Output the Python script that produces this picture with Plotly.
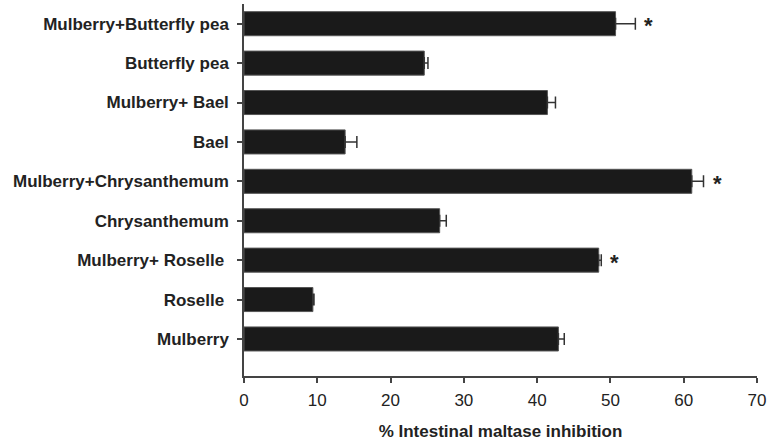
import plotly.graph_objects as go

categories = ["Mulberry", "Roselle ", "Mulberry+ Roselle ", "Chrysanthemum", "Mulberry+Chrysanthemum",
              "Bael", "Mulberry+ Bael", "Butterfly pea", "Mulberry+Butterfly pea"]
values = [42.9, 9.4, 48.4, 26.7, 61.1, 13.8, 41.4, 24.6, 50.7]
errors = [0.8, 0.15, 0.35, 0.9, 1.6, 1.6, 1.1, 0.5, 2.7]
significant = [False, False, True, False, True, False, False, False, True]
x_ticks = [0, 10, 20, 30, 40, 50, 60, 70]

font = "Liberation Sans, Arial, sans-serif"
fs = 17

fig = go.Figure()
fig.add_trace(go.Bar(
    y=categories, x=values, orientation="h",
    marker=dict(color="#1a1a1a", line=dict(color="#555555", width=1)),
    width=0.61,
    error_x=dict(type="data", symmetric=False, array=errors, arrayminus=[0] * len(errors),
                 color="#333333", thickness=1.5, width=6),
))

for cat, v, e, s in zip(categories, values, errors, significant):
    if s:
        fig.add_annotation(x=v + e, y=cat, text="<b>*</b>", showarrow=False,
                           xanchor="left", xshift=7, yshift=-2,
                           font=dict(family=font, size=22, color="#222222"))

fig.update_layout(
    width=769, height=441,
    margin=dict(l=244, r=12, t=4, b=65),
    paper_bgcolor="white", plot_bgcolor="white",
    showlegend=False,
    font=dict(family=font, size=fs, color="#222222"),
)
fig.update_xaxes(
    range=[0, 70], tickvals=x_ticks, ticks="outside", ticklen=5, tickwidth=1.5,
    tickcolor="#444444", showline=True, linecolor="#444444", linewidth=1.5,
    showgrid=False, zeroline=False, automargin=False, ticklabelstandoff=3,
    tickfont=dict(family=font, size=fs, color="#222222"),
    tickprefix="<b>", ticksuffix="</b>",
    title=dict(text="<b>% Intestinal maltase inhibition</b>", standoff=22,
               font=dict(family=font, size=fs, color="#222222")),
)
fig.update_yaxes(
    categoryorder="array", categoryarray=categories,
    range=[-0.94, 8.5], ticks="outside", ticklen=5, tickwidth=1.5,
    tickcolor="#444444", showline=True, linecolor="#444444", linewidth=1.5,
    showgrid=False, zeroline=False, automargin=False, ticklabelstandoff=5,
    tickfont=dict(family=font, size=fs, color="#222222"),
    tickprefix="<b>", ticksuffix="</b>",
)

fig.write_html("out.html", config={"displayModeBar": False},
               post_script="document.body.style.margin='0';")
